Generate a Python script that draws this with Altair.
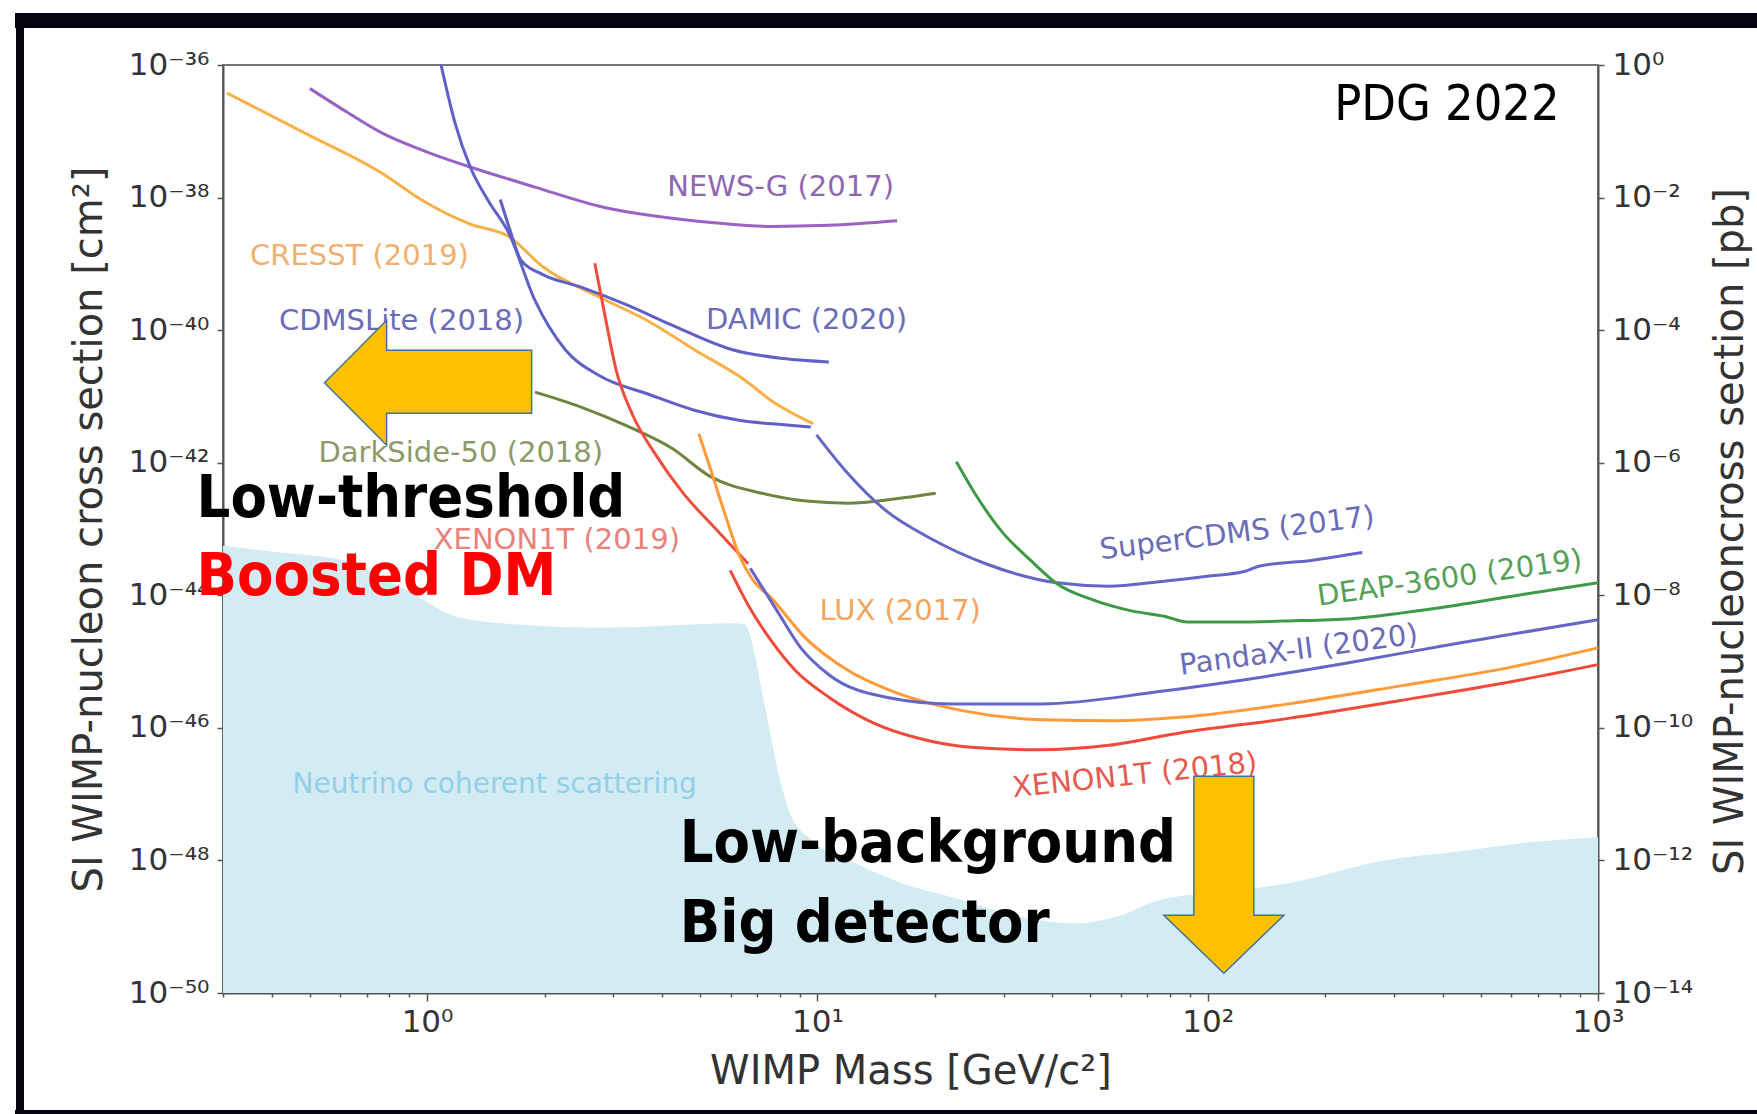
import altair as alt
import pandas as pd

# ---------------- data (mass in GeV/c^2, SI cross section in cm^2) ----------------
cresst_mass = [0.307, 0.488, 0.770, 0.964, 1.29, 1.62, 1.98, 2.76, 3.71, 4.84, 6.51, 7.59, 9.76]
cresst_xs = [3.78e-37, 9.31e-38, 2.29e-38, 9.35e-39, 3.97e-39, 2.59e-39, 9.03e-40, 3.16e-40, 1.34e-40, 5.07e-41, 1.77e-41, 8.79e-42, 3.88e-42]

newsg_mass = [0.501, 0.623, 0.770, 0.99, 1.29, 1.89, 2.76, 3.87, 5.53, 7.59, 10.7, 16.0]
newsg_xs = [4.41e-37, 1.95e-37, 9.31e-38, 4.99e-38, 2.89e-38, 1.44e-38, 7.40e-39, 5.21e-39, 4.13e-39, 3.67e-39, 3.82e-39, 4.47e-39]

cdmslite_mass = [1.086, 1.18, 1.29, 1.44, 1.62, 1.89, 2.26, 2.76, 3.71, 4.84, 6.30, 8.21, 9.62]
cdmslite_xs = [1.0e-36, 1.32e-37, 2.89e-38, 8.65e-39, 2.91e-39, 2.81e-40, 5.07e-41, 2.07e-41, 1.07e-41, 6.19e-42, 4.36e-42, 3.73e-42, 3.45e-42]

damic_mass = [1.54, 1.63, 1.74, 1.98, 2.47, 3.25, 4.24, 6.06, 8.21, 10.7]
damic_xs = [9.35e-39, 3.27e-39, 1.14e-39, 6.89e-40, 4.49e-40, 2.40e-40, 1.19e-40, 5.07e-41, 3.72e-41, 3.30e-41]

darkside_mass = [1.89, 2.47, 3.25, 4.24, 5.31, 7.20, 9.37, 11.97, 15.9, 20.1]
darkside_xs = [1.16e-41, 6.97e-42, 3.59e-42, 1.65e-42, 6.22e-43, 3.47e-43, 2.64e-43, 2.45e-43, 2.86e-43, 3.47e-43]

supercdms_mass = [9.95, 11.8, 14.9, 19.4, 27.0, 41.2, 55.8, 75.2, 101, 124, 136, 184, 249]
supercdms_xs = [2.63e-42, 7.57e-43, 1.94e-43, 7.31e-44, 2.99e-44, 1.54e-44, 1.37e-44, 1.60e-44, 1.95e-44, 2.28e-44, 2.77e-44, 3.36e-44, 4.41e-44]

deap_mass = [22.7, 25.3, 29.8, 35.2, 41.2, 50.6, 63.8, 77.8, 88.7, 116, 161, 233, 312, 434, 646, 1000]
deap_xs = [1.03e-42, 3.47e-43, 8.89e-44, 3.36e-44, 1.48e-44, 8.59e-45, 5.82e-45, 4.80e-45, 3.95e-45, 3.95e-45, 4.10e-45, 4.44e-45, 5.38e-45, 7.08e-45, 1.04e-44, 1.54e-44]

xenon2019_mass = [2.69, 2.85, 3.05, 3.36, 3.84, 4.53, 5.53, 6.65]
xenon2019_xs = [1.02e-39, 1.76e-40, 2.52e-41, 5.29e-42, 1.36e-42, 3.47e-43, 9.61e-44, 2.99e-44]

lux_mass = [4.97, 5.34, 5.79, 6.30, 6.82, 7.59, 9.37, 11.97, 15.9, 23.5, 37.6, 58.1, 84.8, 161, 312, 604, 1000]
lux_xs = [2.74e-42, 7.57e-43, 1.72e-43, 4.08e-44, 1.73e-44, 9.29e-45, 2.20e-45, 7.40e-46, 3.40e-46, 1.82e-46, 1.33e-46, 1.28e-46, 1.44e-46, 2.30e-46, 4.30e-46, 8.32e-46, 1.61e-45]

pandax_mass = [6.73, 7.95, 9.07, 10.7, 15.0, 22.1, 37.6, 75.2, 116, 224, 434, 1000]
pandax_xs = [2.56e-44, 5.38e-45, 1.61e-45, 6.34e-46, 2.90e-46, 2.30e-46, 2.30e-46, 3.53e-46, 5.01e-46, 9.35e-46, 1.88e-45, 4.27e-45]

xenon2018_mass = [5.98, 6.65, 7.59, 8.77, 10.7, 13.9, 18.8, 25.3, 36.8, 55.8, 84.8, 161, 312, 604, 1000]
xenon2018_xs = [2.37e-44, 7.08e-45, 2.12e-45, 7.40e-46, 2.90e-46, 1.19e-46, 6.62e-47, 5.04e-47, 4.67e-47, 5.45e-47, 8.36e-47, 1.39e-46, 2.59e-46, 5.01e-46, 9.00e-46]

nu_mass = [0.3, 0.419, 0.611, 0.868, 1.21, 1.68, 2.76, 4.24, 6.10, 6.51, 6.82, 7.10, 7.48, 7.95, 8.49,
           9.69, 11.97, 15.9, 23.5, 32.9, 46.1, 59.7, 75.2, 116, 161, 292, 434, 646, 1000]
nu_xs = [5.57e-44, 4.41e-44, 3.36e-44, 1.27e-44, 4.61e-45, 3.65e-45, 3.25e-45, 3.51e-45, 3.79e-45, 3.65e-45,
         1.81e-45, 5.64e-46, 1.19e-46, 2.06e-47, 5.27e-48, 1.99e-48, 1.03e-48, 4.90e-49, 2.53e-49, 1.41e-49,
         1.12e-49, 1.47e-49, 2.53e-49, 3.45e-49, 4.53e-49, 1.03e-48, 1.35e-48, 1.84e-48, 2.24e-48]
nu_floor_base = 1e-50

# curve labels
label_text = ["NEWS-G (2017)", "CRESST (2019)", "CDMSLite (2018)", "DAMIC (2020)", "DarkSide-50 (2018)",
              "XENON1T (2019)", "SuperCDMS (2017)", "DEAP-3600 (2019)", "LUX (2017)", "PandaX-II (2020)",
              "XENON1T (2018)"]
label_mass = [8.05, 0.671, 0.860, 9.38, 1.22, 2.15, 119, 417, 16.3, 171, 65.0]
label_xs = [1.45e-38, 1.32e-39, 1.37e-40, 1.42e-40, 1.40e-42, 6.84e-44, 8.6e-44, 1.80e-44, 5.70e-45, 1.49e-45, 1.91e-47]
label_angle = [0, 0, 0, 0, 0, 0, 353, 352, 0, 352.5, 354]
label_color = ["#8d68b0", "#f0b070", "#6b6cb8", "#6b6cb8", "#8c9a6a", "#e8827a", "#6b6cb8", "#55a05a",
               "#f5a55a", "#6b6cb8", "#e65a50"]

nu_label = ["Neutrino coherent scattering"]
nu_label_mass = [1.49]
nu_label_xs = [1.39e-47]

big_text = ["Low-threshold", "Boosted DM", "Low-background", "Big detector"]
big_mass = [0.2567, 0.2567, 4.44, 4.44]
big_xs = [1.51e-43, 1.00e-44, 9.37e-49, 5.82e-50]
big_color = ["#000000", "#ff0000", "#000000", "#000000"]

pdg_text = ["PDG 2022"]
pdg_mass = [797]
pdg_xs = [1.48e-37]

arrow_left_mass = [1.006]
arrow_left_xs = [1.61e-41]
arrow_down_mass = [110]
arrow_down_xs = [6.07e-49]

x_major = [1, 10, 100, 1000]
x_minor = [0.3, 0.4, 0.5, 0.6, 0.7, 0.8, 0.9, 2, 3, 4, 5, 6, 7, 8, 9,
           20, 30, 40, 50, 60, 70, 80, 90, 200, 300, 400, 500, 600, 700, 800, 900]
y_ticks_cm2 = [1e-36, 1e-38, 1e-40, 1e-42, 1e-44, 1e-46, 1e-48, 1e-50]
y_ticks_pb = [1, 1e-2, 1e-4, 1e-6, 1e-8, 1e-10, 1e-12, 1e-14]

# ---------------- build tables ----------------
series = [
    ("NEWS-G", newsg_mass, newsg_xs, "#9a62c2"),
    ("CRESST", cresst_mass, cresst_xs, "#f8b048"),
    ("CDMSLite", cdmslite_mass, cdmslite_xs, "#5f61c6"),
    ("DAMIC", damic_mass, damic_xs, "#5f61c6"),
    ("DarkSide-50", darkside_mass, darkside_xs, "#6f8440"),
    ("SuperCDMS", supercdms_mass, supercdms_xs, "#6466c8"),
    ("DEAP-3600", deap_mass, deap_xs, "#3f9a48"),
    ("XENON1T 2019", xenon2019_mass, xenon2019_xs, "#ef4d3d"),
    ("LUX", lux_mass, lux_xs, "#ff9a38"),
    ("PandaX-II", pandax_mass, pandax_xs, "#6466c8"),
    ("XENON1T 2018", xenon2018_mass, xenon2018_xs, "#ef4a3a"),
]
rows = []
for name, ms, xs, col in series:
    for i, (m, s) in enumerate(zip(ms, xs)):
        rows.append({"exp": name, "mass": m, "sigma": s, "idx": i, "col": col})
lines_df = pd.DataFrame(rows)

nu_df = pd.DataFrame({"mass": nu_mass, "sigma": nu_xs, "base": [nu_floor_base] * len(nu_mass)})
labels_df = pd.DataFrame({"mass": label_mass, "sigma": label_xs, "text": label_text,
                          "ang": label_angle, "col": label_color})
nu_label_df = pd.DataFrame({"mass": nu_label_mass, "sigma": nu_label_xs, "text": nu_label})
big_df = pd.DataFrame({"mass": big_mass, "sigma": big_xs, "text": big_text, "col": big_color})
pdg_df = pd.DataFrame({"mass": pdg_mass, "sigma": pdg_xs, "text": pdg_text})
arrow_l_df = pd.DataFrame({"mass": arrow_left_mass, "sigma": arrow_left_xs})
arrow_d_df = pd.DataFrame({"mass": arrow_down_mass, "sigma": arrow_down_xs})
pb_df = pd.DataFrame({"mass": [1.0] * len(y_ticks_pb), "pb": y_ticks_pb})
frame_df = pd.DataFrame({"k": [0]})

# ---------------- axes ----------------
SUP = "⁰¹²³⁴⁵⁶⁷⁸⁹"
E = "round(log(datum.value)/LN10)"
pow_expr = (f"'10' + ({E} < 0 ? '⁻' : '') + (abs({E}) >= 10 ? substring('{SUP}', floor(abs({E})/10), "
            f"floor(abs({E})/10)+1) : '') + substring('{SUP}', abs({E})%10, abs({E})%10+1)")
is_major = f"abs(log(datum.value)/LN10 - {E}) < 0.01"

FONT = "DejaVu Sans"
TXT = "#333333"

x_axis = alt.Axis(
    values=sorted(x_major + x_minor), labelExpr=f"{is_major} ? ({pow_expr}) : ''",
    tickSize={"condition": {"test": is_major, "value": 8}, "value": 4},
    tickColor="#555555", tickWidth=1.5, domainColor="#555555", domainWidth=2,
    labelFont=FONT, labelFontSize=31, labelColor=TXT, labelPadding=6,
    labelFlush=False, labelOverlap=False, grid=False,
    title="WIMP Mass [GeV/c²]", titleFont=FONT, titleFontSize=40, titleFontWeight="normal",
    titleColor=TXT, titleX=687.5, titleY=90, titleBaseline="alphabetic", titleAlign="center",
)
y_axis = alt.Axis(
    values=y_ticks_cm2, labelExpr=pow_expr, tickSize=6, tickColor="#555555", tickWidth=1.5,
    domainColor="#555555", domainWidth=2, labelFont=FONT, labelFontSize=31, labelColor=TXT,
    labelPadding=8, labelFlush=False, labelOverlap=False, grid=False,
    title="SI WIMP-nucleon cross section [cm²]", titleFont=FONT, titleFontSize=40,
    titleFontWeight="normal", titleColor=TXT, titleAngle=270, titleX=-122, titleY=464,
    titleBaseline="alphabetic", titleAlign="center",
)
y2_axis = alt.Axis(
    orient="right", values=y_ticks_pb, labelExpr=pow_expr, tickSize=6, tickColor="#555555",
    tickWidth=1.5, domainColor="#555555", domainWidth=2, labelFont=FONT, labelFontSize=31,
    labelColor=TXT, labelPadding=8, labelFlush=False, labelOverlap=False, grid=False,
    title="SI WIMP-nucleoncross section [pb]", titleFont=FONT, titleFontSize=40,
    titleFontWeight="normal", titleColor=TXT, titleAngle=270, titleX=144, titleY=466,
    titleBaseline="alphabetic", titleAlign="center",
)

xscale = alt.Scale(type="log", domain=[0.3, 1000], nice=False)
yscale = alt.Scale(type="log", domain=[1e-50, 1e-36], nice=False)
X = alt.X("mass:Q", scale=xscale, axis=x_axis)
Y = alt.Y("sigma:Q", scale=yscale, axis=y_axis)

# ---------------- layers ----------------
area = alt.Chart(nu_df).mark_area(color="#d3ebf3", opacity=1, interpolate="monotone").encode(
    x=X, y=Y, y2=alt.Y2("base:Q"))

lines = alt.Chart(lines_df).mark_line(strokeWidth=3, interpolate="monotone").encode(
    x=X, y=Y, stroke=alt.Stroke("col:N", scale=None), detail="exp:N", order="idx:Q")

labels = alt.Chart(labels_df).mark_text(font=FONT, fontSize=29, align="center", baseline="middle").encode(
    x=X, y=Y, text="text:N", angle=alt.Angle("ang:Q", scale=None), fill=alt.Fill("col:N", scale=None))

nu_text = alt.Chart(nu_label_df).mark_text(font=FONT, fontSize=28, align="center", baseline="middle",
                                           color="#92d0ea").encode(x=X, y=Y, text="text:N")

left_arrow = alt.Chart(arrow_l_df).mark_point(
    shape="M -0.986 0 L -0.395 -0.595 L -0.395 -0.31 L 0.986 -0.31 L 0.986 0.29 L -0.395 0.29 L -0.395 0.595 Z",
    size=44100, filled=True, fill="#FFC000", stroke="#41719C", strokeWidth=1.5, opacity=1).encode(x=X, y=Y)

down_arrow = alt.Chart(arrow_d_df).mark_point(
    shape="M -0.30 -0.985 L 0.30 -0.985 L 0.30 0.405 L 0.60 0.405 L 0 0.985 L -0.60 0.405 L -0.30 0.405 Z",
    size=40000, filled=True, fill="#FFC000", stroke="#41719C", strokeWidth=1.5, opacity=1).encode(x=X, y=Y)

big = alt.Chart(big_df).mark_text(font="DejaVu Sans Condensed, Liberation Sans", fontSize=59,
                                  fontWeight="bold", align="left", baseline="alphabetic").encode(
    x=X, y=Y, text="text:N", fill=alt.Fill("col:N", scale=None))

pdg = alt.Chart(pdg_df).mark_text(font="DejaVu Sans Condensed, Liberation Sans", fontSize=50,
                                  align="right", baseline="alphabetic", color="#000000").encode(
    x=X, y=Y, text="text:N")

# black frame of the slide screenshot (decoration outside the plot)
frame_top = alt.Chart(frame_df).mark_rect(color="#05050f").encode(
    x=alt.value(-208), x2=alt.value(1534), y=alt.value(-52), y2=alt.value(-37))
frame_left = alt.Chart(frame_df).mark_rect(color="#05050f").encode(
    x=alt.value(-207), x2=alt.value(-199), y=alt.value(-52), y2=alt.value(1049))
frame_bottom = alt.Chart(frame_df).mark_rect(color="#05050f").encode(
    x=alt.value(-208), x2=alt.value(1534), y=alt.value(1045), y2=alt.value(1049))

main = alt.layer(area, lines, labels, nu_text, left_arrow, down_arrow, big, pdg,
                 frame_top, frame_left, frame_bottom)

right = alt.Chart(pb_df).mark_point(opacity=0).encode(
    x=X, y=alt.Y("pb:Q", scale=alt.Scale(type="log", domain=[1e-14, 1], nice=False), axis=y2_axis))

chart = alt.layer(main, right).resolve_scale(y="independent").properties(
    width=1375, height=928,
    padding={"left": 223, "top": 65, "right": 159, "bottom": 121},
    autosize=alt.AutoSizeParams(type="none"),
    background="#ffffff",
).configure_view(stroke="#777777", strokeWidth=2)

chart.save("out.html", embed_options={"renderer": "svg", "actions": False})
